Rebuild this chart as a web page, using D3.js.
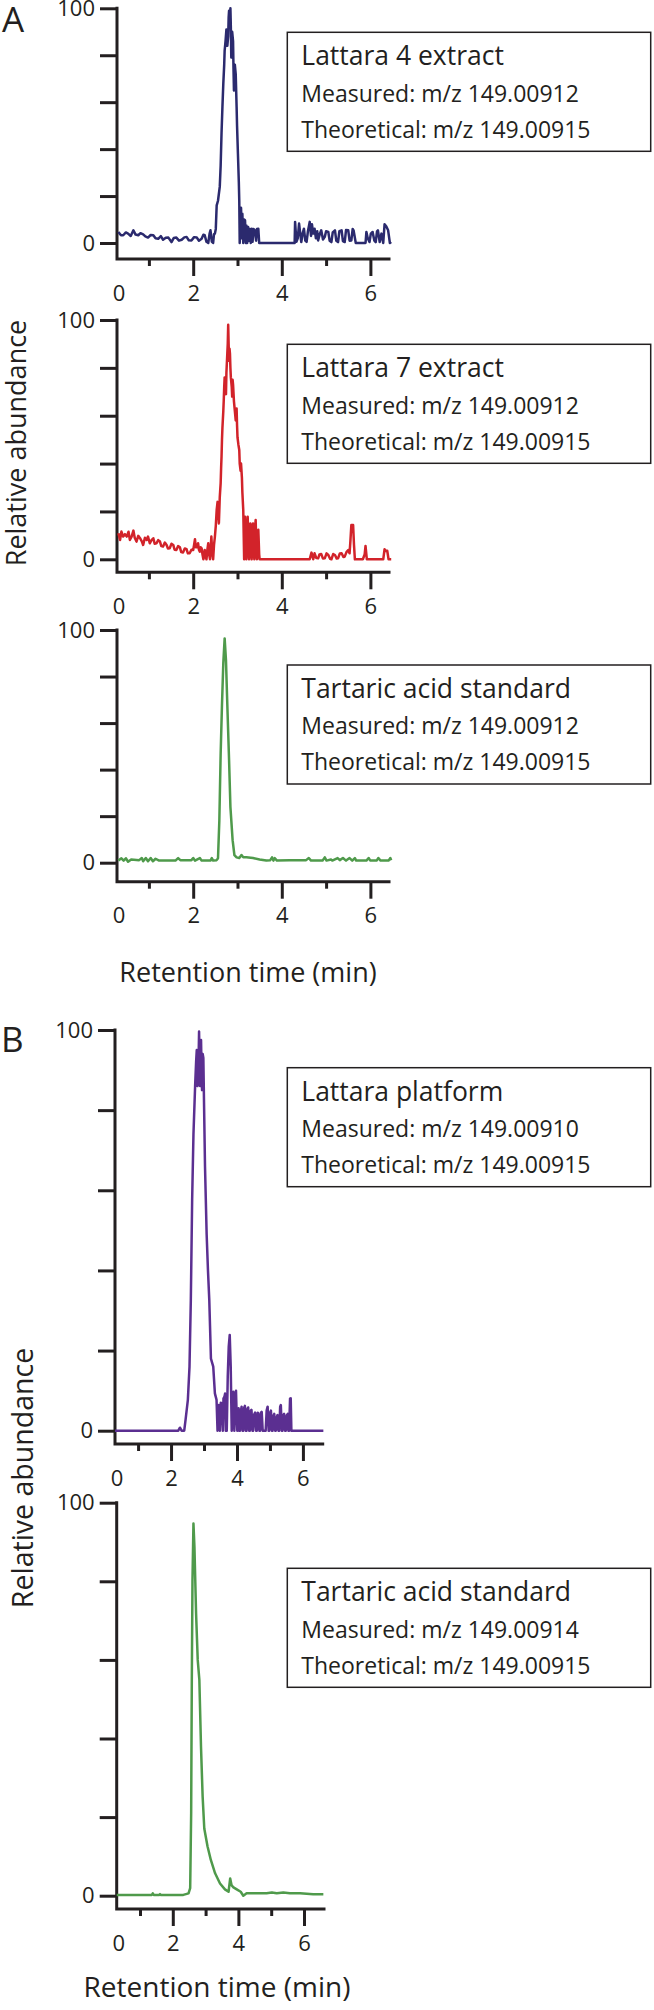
<!DOCTYPE html>
<html>
<head>
<meta charset="utf-8">
<script src="https://cdn.jsdelivr.net/npm/d3@7"></script>
<style>
  body { margin: 0; background: #fff; }
  text { font-family: "Open Sans", "Noto Sans", sans-serif; fill: #231f20; }
</style>
</head>
<body>
<svg id="fig" width="654" height="2010"></svg>
<script>

// ---- data: [retention time (min), relative abundance] ----
var lattara4 = [[0.31,4.7],[0.37,3.3],[0.42,3.3],[0.48,4.5],[0.53,4.0],[0.59,3.0],[0.65,5.4],[0.70,3.6],[0.76,3.3],[0.81,4.2],[0.87,3.7],[0.92,2.8],[0.98,2.3],[1.04,3.4],[1.10,3.3],[1.15,2.0],[1.21,1.8],[1.27,2.9],[1.32,1.4],[1.38,2.2],[1.44,2.3],[1.51,0.4],[1.56,2.1],[1.62,2.3],[1.68,1.0],[1.74,1.4],[1.80,2.4],[1.85,2.6],[1.90,1.2],[1.96,1.1],[2.02,2.5],[2.08,2.3],[2.13,1.0],[2.19,1.8],[2.23,3.5],[2.26,3.3],[2.30,0.5],[2.34,0],[2.37,4.0],[2.39,5.4],[2.42,0.6],[2.45,0],[2.47,3.8],[2.49,4.0],[2.51,6],[2.53,16],[2.56,18],[2.60,24],[2.62,33],[2.64,47],[2.66,58],[2.68,68],[2.70,76],[2.71,82],[2.73,86],[2.75,91],[2.77,84],[2.79,88],[2.80,96],[2.81,99],[2.83,93],[2.84,100],[2.85,92],[2.86,79],[2.88,90],[2.90,86],[2.91,74],[2.92,65],[2.94,76],[2.96,72],[2.98,58],[2.99,50],[3.01,38],[3.03,26],[3.04,18],[3.05,0],[3.07,14],[3.08,15],[3.10,2],[3.11,12.5],[3.13,0],[3.15,10],[3.17,9.7],[3.19,0],[3.20,7.5],[3.22,0],[3.24,6.8],[3.26,1],[3.28,6],[3.30,0],[3.32,6.1],[3.34,0.5],[3.36,6],[3.39,5.4],[3.42,1],[3.44,6],[3.47,6.1],[3.49,0],[4.29,0],[4.30,9],[4.33,0.5],[4.36,2],[4.39,8.3],[4.41,5],[4.44,0.4],[4.47,4],[4.50,6.1],[4.53,1],[4.56,0.5],[4.59,5],[4.63,9],[4.66,3],[4.68,8],[4.71,4],[4.74,6.1],[4.77,2],[4.80,5],[4.82,1.1],[4.86,4],[4.89,5.4],[4.93,1.5],[4.97,2.6],[5.00,5],[5.05,4.7],[5.08,1],[5.12,0.4],[5.15,4.5],[5.20,5.4],[5.23,1],[5.27,0.4],[5.30,5],[5.35,5.4],[5.38,0.8],[5.42,0.4],[5.45,5.5],[5.50,5.4],[5.53,1],[5.57,1.1],[5.60,6],[5.62,5.4],[5.67,0],[5.89,0],[5.91,4.7],[5.94,2],[5.98,0.4],[6.01,4],[6.05,4.7],[6.09,1],[6.12,0.4],[6.15,5],[6.17,5.4],[6.21,0.4],[6.25,4.0],[6.29,0],[6.32,8],[6.36,7],[6.40,5.4],[6.44,0],[6.47,0.4]];

var lattara7 = [[0.31,10.9],[0.35,8.1],[0.38,11.6],[0.42,9.5],[0.46,10.5],[0.50,9.5],[0.54,11.5],[0.57,8.1],[0.61,9.5],[0.65,12.0],[0.68,9],[0.72,7.4],[0.76,9.8],[0.80,8.8],[0.84,7.5],[0.87,6.0],[0.91,9],[0.95,8.1],[0.98,9.5],[1.02,6.7],[1.06,8],[1.10,8.8],[1.13,6.5],[1.17,6.7],[1.21,8],[1.25,7.4],[1.28,5.5],[1.32,5.3],[1.36,7],[1.40,6.0],[1.43,4.5],[1.47,4.6],[1.51,6.5],[1.55,6.0],[1.58,4],[1.62,3.9],[1.66,5.5],[1.70,5.0],[1.73,3],[1.77,2.8],[1.81,4.5],[1.85,4.2],[1.88,2.5],[1.92,2.5],[1.96,4],[2.00,3.9],[2.02,6],[2.04,8.4],[2.06,5],[2.08,5.0],[2.11,6.7],[2.13,4],[2.15,3.2],[2.17,5],[2.19,4.6],[2.21,2],[2.23,0],[2.26,3.9],[2.28,1],[2.30,0],[2.32,4],[2.34,6.7],[2.36,2],[2.38,0],[2.41,9.5],[2.43,3],[2.45,0],[2.47,6],[2.49,9.5],[2.51,14],[2.53,20.6],[2.55,24],[2.56,22],[2.58,15],[2.60,26],[2.62,31.8],[2.63,38],[2.64,43],[2.65,50],[2.66,55],[2.68,62],[2.69,66.6],[2.70,72],[2.71,76],[2.72,70],[2.74,69],[2.75,78],[2.77,86],[2.78,90],[2.79,98],[2.80,90],[2.81,83],[2.82,88],[2.83,86],[2.84,80],[2.85,76],[2.87,72],[2.88,68],[2.89,75],[2.90,73],[2.92,66],[2.94,62],[2.96,58],[2.98,63],[2.99,56],[3.00,51],[3.02,48],[3.04,45.7],[3.05,40],[3.07,37],[3.08,40],[3.10,34],[3.11,28],[3.13,20.6],[3.15,0],[3.16,14],[3.17,17.8],[3.19,6],[3.20,0],[3.22,12],[3.23,17.8],[3.25,4],[3.26,0],[3.28,12],[3.29,15],[3.31,3],[3.32,0],[3.34,13],[3.35,15],[3.37,4],[3.38,0],[3.40,14],[3.41,16.4],[3.43,2],[3.44,0],[3.46,10],[3.47,12.3],[3.49,2],[3.50,0],[4.63,0],[4.67,2.8],[4.71,0],[4.74,2.5],[4.78,0.5],[4.82,0.4],[4.85,2],[4.89,2.2],[4.93,0.3],[4.97,0.4],[5.01,2.5],[5.05,1.8],[5.09,0.2],[5.12,0],[5.16,2.2],[5.20,1.8],[5.24,0.3],[5.27,0.4],[5.31,2.4],[5.35,2.5],[5.39,1],[5.42,1.1],[5.46,3],[5.50,3.9],[5.53,2.5],[5.55,8],[5.57,14.3],[5.61,14.3],[5.63,6],[5.65,0],[5.83,0],[5.87,2],[5.89,5.6],[5.92,0],[6.29,0],[6.32,4.2],[6.35,3.5],[6.38,3.6],[6.41,0],[6.47,0]];

var tartaricA = [[0.31,0.9],[0.38,1.9],[0.43,0.9],[0.48,1.9],[0.53,0.4],[0.60,1.4],[0.78,1.1],[0.84,2.0],[0.87,0.6],[0.93,2.0],[0.98,0.6],[1.04,2.0],[1.09,0.6],[1.15,1.7],[1.23,0.9],[1.60,0.9],[1.66,2.0],[1.71,1.1],[1.96,1.1],[2.00,2.0],[2.04,0.9],[2.15,2.0],[2.19,0.9],[2.39,0.9],[2.42,2.0],[2.45,0.9],[2.53,1.1],[2.56,1.9],[2.59,18],[2.62,47],[2.65,68],[2.68,86],[2.71,96.4],[2.74,87],[2.77,68],[2.81,44],[2.84,24],[2.89,9.7],[2.93,3.3],[2.98,2.3],[3.04,2.0],[3.09,3.3],[3.13,2.3],[3.20,2.3],[3.35,2.0],[3.50,1.4],[3.65,0.9],[3.74,1.1],[3.78,2.3],[3.81,0.9],[3.84,2.0],[3.89,0.9],[4.17,1.1],[4.55,1.1],[4.61,2.0],[4.66,0.9],[4.92,0.9],[4.97,2.3],[5.01,0.9],[5.11,1.4],[5.14,0.9],[5.26,2.0],[5.31,1.1],[5.38,2.0],[5.45,0.9],[5.53,2.0],[5.59,0.9],[5.65,2.0],[5.68,0.9],[5.91,0.9],[5.96,2.0],[6.00,0.9],[6.14,0.9],[6.18,2.0],[6.23,0.9],[6.41,0.9],[6.45,2.0],[6.47,1.1]];

var platformB = [[0.30,0],[2.22,0],[2.27,0.75],[2.32,0],[2.40,0],[2.44,2.7],[2.51,7.7],[2.56,16],[2.60,32.6],[2.64,57.6],[2.68,74],[2.73,86],[2.76,92],[2.78,95],[2.80,86],[2.82,86.7],[2.84,95],[2.85,99.6],[2.87,90],[2.88,86],[2.90,93],[2.91,97.5],[2.93,88],[2.94,85],[2.96,94],[2.98,93],[3.00,82],[3.03,66],[3.08,49],[3.12,40],[3.16,32.6],[3.21,18],[3.28,16],[3.33,9.3],[3.38,7.7],[3.41,0],[3.45,6.4],[3.48,0],[3.51,7],[3.54,6.8],[3.57,0],[3.59,8],[3.62,8.5],[3.64,9.3],[3.66,0],[3.69,0],[3.72,13.5],[3.75,21],[3.78,23.9],[3.81,16],[3.84,0],[3.87,9],[3.89,9.7],[3.92,0],[3.95,8],[3.97,10],[3.99,4],[4.01,0],[4.03,5],[4.05,5.6],[4.07,0],[4.09,0],[4.12,5],[4.14,6],[4.17,0],[4.19,0],[4.22,5.8],[4.24,6.2],[4.27,0],[4.29,0],[4.32,5.5],[4.34,5.8],[4.37,0],[4.39,0],[4.42,5],[4.44,5.2],[4.47,0],[4.49,0],[4.52,4],[4.55,4.5],[4.58,0],[4.60,0],[4.63,4.5],[4.65,4.3],[4.68,0],[4.70,0],[4.73,4.5],[4.75,4.7],[4.78,0],[4.87,0],[4.90,5],[4.93,6],[4.96,0],[4.98,0],[5.01,4.6],[5.03,5.0],[5.06,0],[5.08,0],[5.11,3.8],[5.13,4.2],[5.16,0],[5.18,0],[5.21,3.5],[5.23,3.9],[5.26,0],[5.28,0],[5.31,6],[5.33,6.4],[5.36,0],[5.38,0],[5.41,4],[5.43,4.2],[5.46,0],[5.48,0],[5.51,3.8],[5.54,4.2],[5.56,0],[5.58,0],[5.61,8],[5.63,8.1],[5.65,0],[5.67,0],[6.62,0]];

var tartaricB = [[0.29,0.2],[1.36,0.2],[1.39,0.6],[1.42,0.2],[1.58,0.2],[1.61,0.4],[1.64,0.2],[2.32,0.2],[2.48,0.6],[2.53,1.9],[2.56,21],[2.58,55],[2.60,80],[2.63,94.7],[2.66,88.8],[2.71,71.8],[2.76,60],[2.81,54.9],[2.86,37.9],[2.91,25.2],[2.96,17.1],[3.06,12.5],[3.16,9.1],[3.29,5.7],[3.44,3.1],[3.59,1.6],[3.70,1.0],[3.75,4.4],[3.79,2.7],[3.85,2.1],[3.95,1.6],[4.07,1.0],[4.15,0],[4.25,0.6],[4.46,0.6],[4.86,0.6],[5.02,0.8],[5.17,0.6],[5.37,0.8],[5.57,0.6],[5.88,0.6],[6.28,0.4],[6.59,0.4]];

var sampleNames = ["Lattara 4 extract", "Lattara 7 extract", "Tartaric acid standard", "Lattara platform", "Tartaric acid standard"];
var measuredMz = ["149.00912", "149.00912", "149.00912", "149.00910", "149.00914"];
var theoreticalMz = ["149.00915", "149.00915", "149.00915", "149.00915", "149.00915"];
var lineColors = ["#2b2a6e", "#d2232a", "#4f9a4b", "#5b2f91", "#4f9a4b"];

var yTicks = [0, 20, 40, 60, 80, 100];
var yLabels = [0, 100];
var xMajor = [2, 4, 6];
var xMinor = [1, 3, 5];

// ---- layout of each panel in page pixels ----
var layout = [
    {tDomain: [0.28, 6.42], xRange: [117, 389], yRange: [243, 8.3], axisY: 259, boxTop: 32.3},
    {tDomain: [0.28, 6.42], xRange: [117, 389], yRange: [559.3, 320], axisY: 572.3, boxTop: 344.3},
    {tDomain: [0.28, 6.42], xRange: [117, 389], yRange: [862.7, 630], axisY: 881.7, boxTop: 665},
    {tDomain: [0.30, 6.60], xRange: [115, 322.7], yRange: [1430.7, 1030], axisY: 1444, boxTop: 1067.7},
    {tDomain: [0.29, 6.61], xRange: [116.7, 324], yRange: [1895.7, 1502.7], axisY: 1909, boxTop: 1568.3}
];
var series = [lattara4, lattara7, tartaricA, platformB, tartaricB];

var svg = d3.select('#fig');
var axisColor = '#231f20';

function styleAxis(sel) {
    sel.select('.domain').remove();
    sel.selectAll('line').attr('stroke', axisColor).attr('stroke-width', 3);
    sel.selectAll('text').attr('fill', axisColor).style('font-size', '22px');
}

function drawPanel(i) {
    var p = layout[i];
    var g = svg.append('g');

    var x = d3.scaleLinear().domain(p.tDomain).range(p.xRange);
    var y = d3.scaleLinear().domain([0, 100]).range(p.yRange);

    // y axis
    var ya = g.append('g')
        .attr('transform', 'translate(' + p.xRange[0] + ',0)')
        .call(d3.axisLeft(y).tickValues(yTicks).tickSize(17).tickPadding(5)
            .tickFormat(function(d) { return yLabels.indexOf(d) >= 0 ? d : ''; }));
    styleAxis(ya);

    // x axis, labelled major ticks and short minor ticks
    var xa = g.append('g')
        .attr('transform', 'translate(0,' + p.axisY + ')')
        .call(d3.axisBottom(x).tickValues(xMajor).tickSize(17).tickPadding(9)
            .tickFormat(d3.format('d')));
    styleAxis(xa);
    var xm = g.append('g')
        .attr('transform', 'translate(0,' + p.axisY + ')')
        .call(d3.axisBottom(x).tickValues(xMinor).tickSize(7).tickFormat(''));
    styleAxis(xm);

    // "0" sits at the left end of the time axis
    xa.append('text')
        .attr('x', p.xRange[0] + 2)
        .attr('y', 26)
        .attr('dy', '0.71em')
        .attr('text-anchor', 'middle')
        .attr('fill', axisColor)
        .style('font-size', '22px')
        .text('0');

    // axis frame lines
    g.append('path')
        .attr('d', 'M' + p.xRange[0] + ',' + y(100) + 'V' + p.axisY + 'H' + p.xRange[1])
        .attr('fill', 'none')
        .attr('stroke', axisColor)
        .attr('stroke-width', 3)
        .attr('stroke-linecap', 'square')
        .attr('stroke-linejoin', 'miter');

    // trace
    var line = d3.line()
        .x(function(d) { return x(d[0]); })
        .y(function(d) { return y(d[1]); });
    g.append('path')
        .datum(series[i])
        .attr('d', line)
        .attr('fill', 'none')
        .attr('stroke', lineColors[i])
        .attr('stroke-width', 2.5)
        .attr('stroke-linejoin', 'round');

    // legend box
    var bx = 287.3, bw = 363.4, bh = 119;
    g.append('rect')
        .attr('x', bx).attr('y', p.boxTop)
        .attr('width', bw).attr('height', bh)
        .attr('fill', '#fff')
        .attr('stroke', axisColor)
        .attr('stroke-width', 1.5);
    var lines = [sampleNames[i], 'Measured: m/z ' + measuredMz[i], 'Theoretical: m/z ' + theoreticalMz[i]];
    g.selectAll('text.legend')
        .data(lines)
        .enter()
        .append('text')
        .attr('class', 'legend')
        .attr('x', bx + 14)
        .attr('y', function(d, k) { return p.boxTop + [33, 69.4, 105.4][k]; })
        .style('font-size', function(d, k) { return k === 0 ? '26.5px' : '23px'; })
        .text(function(d) { return d; });
}

d3.range(layout.length).forEach(drawPanel);

// panel letters
svg.append('text').attr('x', 2).attr('y', 32).style('font-size', '35px').text('A');
svg.append('text').attr('x', 1).attr('y', 1052).style('font-size', '35px').text('B');

// shared axis titles
svg.append('text')
    .attr('transform', 'translate(26,443) rotate(-90)')
    .attr('text-anchor', 'middle')
    .style('font-size', '27px')
    .text('Relative abundance');
svg.append('text')
    .attr('transform', 'translate(33,1478) rotate(-90)')
    .attr('text-anchor', 'middle')
    .style('font-size', '28.5px')
    .text('Relative abundance');
svg.append('text')
    .attr('x', 248).attr('y', 982)
    .attr('text-anchor', 'middle')
    .style('font-size', '27px')
    .text('Retention time (min)');
svg.append('text')
    .attr('x', 217).attr('y', 1997)
    .attr('text-anchor', 'middle')
    .style('font-size', '28px')
    .text('Retention time (min)');

</script>
</body>
</html>
